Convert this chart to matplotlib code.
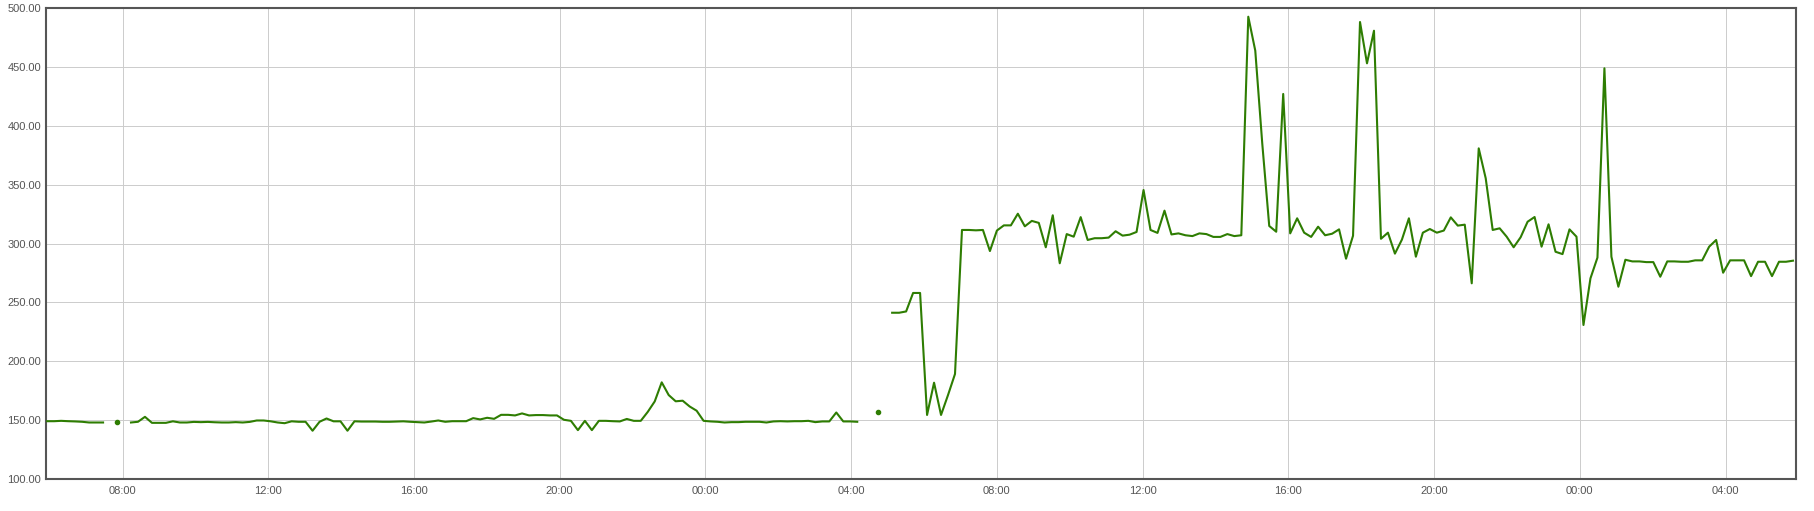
import numpy as np
import pandas as pd
import matplotlib
matplotlib.use("Agg")
import matplotlib.pyplot as plt
import matplotlib.dates as mdates

plt.rcParams['font.family'] = ['Liberation Sans', 'DejaVu Sans']

# sample times: every 11.5 min over two days
start = pd.Timestamp('2024-01-01 05:56')
step = pd.Timedelta(seconds=690)

nan = np.nan
values = [
    149.1, 149.1, 149.4, 149.1, 148.9, 148.6, 148.0, 148.0, 148.0, nan,
    148.3, nan, 148.0, 148.6, 152.8, 147.7, 147.7, 147.7, 149.0, 148.0,
    148.0, 148.5, 148.3, 148.5, 148.2, 148.0, 148.0, 148.3, 148.0, 148.5,
    149.7, 149.7, 149.0, 148.0, 147.4, 149.0, 148.6, 148.6, 141.0, 148.6,
    151.4, 149.0, 149.0, 141.0, 149.0, 148.8, 148.8, 148.8, 148.6, 148.6,
    148.8, 149.0, 148.6, 148.3, 148.0, 148.8, 149.7, 148.6, 149.1, 149.1,
    149.1, 151.7, 150.6, 152.0, 151.1, 154.5, 154.5, 154.0, 155.7, 154.0,
    154.3, 154.3, 154.0, 154.0, 150.3, 149.4, 141.5, 149.4, 141.5, 149.4,
    149.4, 149.1, 148.9, 151.0, 149.4, 149.4, 157.0, 165.9, 182.1, 171.3,
    166.0, 166.5, 161.6, 158.0, 149.4, 148.9, 148.6, 148.0, 148.3, 148.3,
    148.6, 148.6, 148.6, 148.0, 148.9, 149.1, 148.9, 149.1, 149.1, 149.4,
    148.3, 148.9, 148.9, 156.5, 148.9, 148.9, 148.6, nan, nan, 157.2,
    nan, 241.2, 241.2, 242.3, 258.0, 258.0, 154.4, 181.8, 154.4, 171.3,
    189.2, 311.5, 311.5, 311.2, 311.5, 293.6, 311.0, 315.4, 315.4, 325.3,
    314.6, 319.2, 317.5, 296.8, 324.0, 283.2, 308.0, 305.8, 322.4, 303.0,
    304.5, 304.5, 305.0, 310.4, 306.7, 307.5, 309.8, 345.4, 311.5, 309.0,
    327.9, 307.7, 308.6, 307.0, 306.3, 308.6, 308.0, 305.6, 305.6, 308.0,
    306.3, 307.0, 492.6, 463.8, 385.0, 314.9, 310.0, 427.0, 308.6, 321.4,
    309.2, 305.6, 314.3, 307.0, 308.3, 312.0, 287.1, 306.6, 488.1, 453.0,
    480.7, 304.0, 309.2, 291.4, 303.3, 321.4, 288.8, 309.2, 312.3, 309.2,
    311.0, 322.2, 315.2, 316.0, 266.2, 380.8, 355.4, 311.5, 312.9, 305.8,
    296.8, 305.3, 318.5, 322.5, 297.3, 316.3, 293.0, 291.0, 312.0, 305.8,
    230.8, 270.4, 288.0, 448.8, 288.8, 263.3, 286.2, 284.8, 284.8, 284.2,
    284.2, 271.8, 284.8, 284.8, 284.5, 284.5, 285.7, 285.7, 297.3, 303.0,
    275.2, 285.7, 285.7, 285.7, 272.3, 284.5, 284.5, 272.3, 284.5, 284.5,
    285.4,
]

times = pd.date_range(start, periods=len(values), freq=step)
y = np.array(values)

# points with no neighbours are drawn as dots
prev_nan = np.r_[True, np.isnan(y[:-1])]
next_nan = np.r_[np.isnan(y[1:]), True]
lone = ~np.isnan(y) & prev_nan & next_nan

fig = plt.figure(figsize=(18.15, 5.11), dpi=100)
ax = fig.add_axes([0.02534, 0.0626, 0.96419, 0.92174])

line_color = '#2e7d02'
ax.plot(times, y, color=line_color, lw=1.5, zorder=3)
ax.plot(times[lone], y[lone], 'o', color=line_color, ms=3, zorder=3)

ax.set_ylim(100, 500)
ax.set_yticks(np.arange(100, 501, 50))
ax.yaxis.set_major_formatter(matplotlib.ticker.FormatStrFormatter('%.2f'))
ax.set_xlim(start - pd.Timedelta(minutes=2), start + pd.Timedelta(hours=48))
ax.xaxis.set_major_locator(mdates.HourLocator(byhour=[0, 4, 8, 12, 16, 20]))
ax.xaxis.set_major_formatter(mdates.DateFormatter('%H:%M'))

ax.grid(True, color='#cccccc', lw=0.7)
ax.set_axisbelow(True)
ax.tick_params(axis='both', length=0, labelsize=8, labelcolor='#555555')
ax.tick_params(axis='y', pad=3.4)
ax.tick_params(axis='x', pad=5)
for s in ax.spines.values():
    s.set_color('#555555')
    s.set_linewidth(1.5)

fig.savefig('out.png', dpi=100)
